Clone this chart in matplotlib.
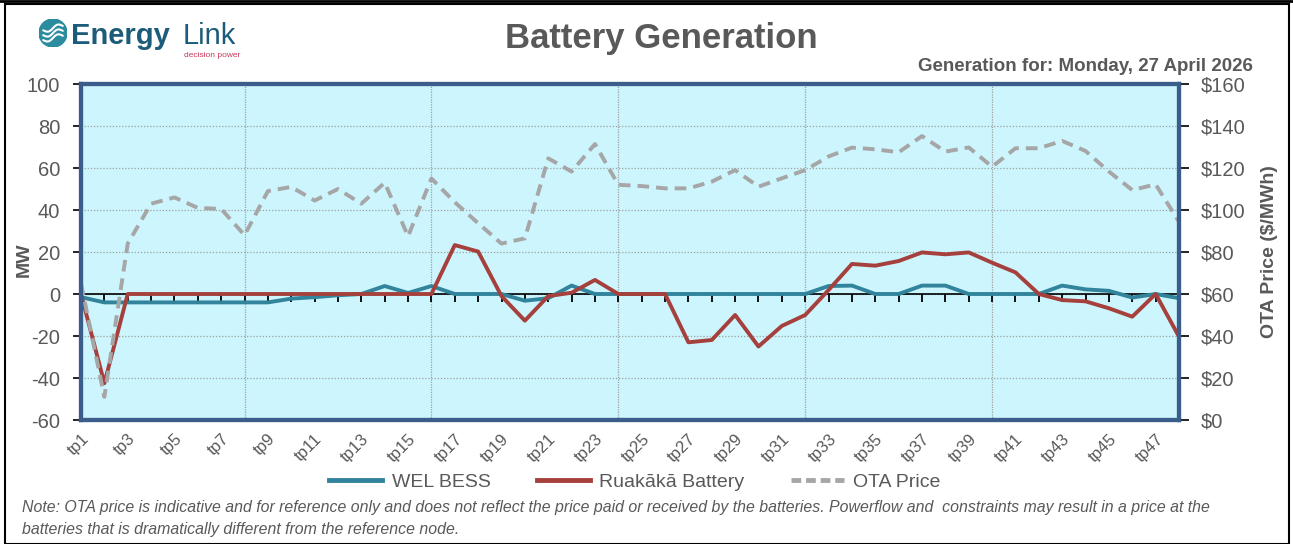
import numpy as np
import matplotlib
matplotlib.use("Agg")
import matplotlib.pyplot as plt
from matplotlib import font_manager
from matplotlib.patches import Rectangle, Circle
from matplotlib.lines import Line2D

# data
periods = ["tp%d" % i for i in range(1, 49)]
wel_bess = [-1.5, -4, -4, -4, -4, -4, -4, -4, -4, -2.2, -1.5, -0.6, 0, 3.8, 0.5, 3.8,
            0, 0, 0, -3.2, -2, 4, 0, 0, 0, 0, 0, 0, 0, 0, 0, 0,
            3.8, 4, 0, 0, 4, 4, 0, 0, 0, 0, 4, 2.2, 1.5, -1.7, 0, -2]
ruakaka = [0, -42.5, 0, 0, 0, 0, 0, 0, 0, 0, 0, 0, 0, 0, 0, 0,
           23.3, 20.2, -1, -12.7, -1, 0.6, 6.7, 0, 0, 0, -23, -21.9, -10, -25, -15.2, -10,
           1.9, 14.3, 13.5, 15.7, 19.8, 18.9, 19.8, 14.9, 10.3, 0, -2.9, -3.5, -6.8, -10.8, 0, -20.3]
ota_price = [65, 11, 84, 103, 106, 101, 100.5, 88, 109, 111, 104.5, 110, 103, 113, 87.5, 115,
             103.7, 93.7, 84, 86.5, 124.6, 118.3, 131.4, 112, 111.4, 110.3, 110.3, 113.5, 119, 111.1, 115.1, 119,
             125.5, 129.7, 128.9, 127.5, 135.2, 127.8, 129.8, 120.6, 129.4, 129.4, 132.9, 128.1, 118.3, 109.5, 112.2, 94.4]
mw_ticks = list(range(-60, 101, 20))
price_ticks = list(range(0, 161, 20))
grid_periods = [7, 15, 23, 31, 39]

installed = {f.name for f in font_manager.fontManager.ttflist}
narrow = "Liberation Sans Narrow" if "Liberation Sans Narrow" in installed else "Liberation Sans"
plt.rcParams["font.family"] = ["Liberation Sans", "DejaVu Sans"]
plt.rcParams["axes.unicode_minus"] = False

grey_txt = "#595959"
teal = "#31849B"
red = "#A5403D"
price_col = "#A6A6A6"
frame_col = "#3A5D8C"

W, H = 1293, 544
fig = plt.figure(figsize=(W / 100, H / 100), dpi=100)

def fx(px):
    return px / W

def fy(py):
    return 1 - py / H

ax = fig.add_axes([fx(81), fy(420), fx(1179) - fx(81), fy(84) - fy(420)])
ax.set_facecolor("#CCF5FD")
x = np.arange(len(periods))

ax.axhline(0, color="black", lw=1.2, zorder=1.5)
ax.plot(x, np.zeros(len(x)), linestyle="none", marker=3, markersize=6, mew=1.3, color="black", zorder=1.5)
ax.plot(x, wel_bess, color=teal, lw=2.8, zorder=3, label="WEL BESS")
ax.plot(x, ruakaka, color=red, lw=2.8, zorder=3, label="Ruakākā Battery")

ax.set_xlim(0, len(x) - 1)
ax.set_ylim(-60, 100)
ax.set_yticks(mw_ticks)
ax.set_xticks(x[::2])
ax.set_xticklabels(periods[::2], rotation=45, ha="right", va="top", rotation_mode="anchor",
                   fontsize=12, color=grey_txt, family=narrow)
ax.set_xticks(grid_periods, minor=True)
ax.tick_params(axis="x", which="both", length=0, pad=8)
ax.tick_params(axis="y", direction="out", length=6, width=1.2, color="black",
               labelsize=14.5, labelcolor=grey_txt, pad=9)
ax.grid(axis="y", color="#A0A0A0", lw=0.9, linestyle=(0, (1, 1.5)))
ax.grid(axis="x", which="minor", color="#A0A0A0", lw=0.9, linestyle=(0, (1, 1)))
ax.set_axisbelow(True)
for s in ax.spines.values():
    s.set_color(frame_col)
    s.set_linewidth(3)
ax.set_ylabel("MW", fontsize=14, fontweight="bold", color=grey_txt)
ax.yaxis.set_label_coords(-0.0437, 0.476)

ax2 = ax.twinx()
ax2.plot(x, ota_price, color=price_col, lw=2.8, dashes=(3, 1.8), label="OTA Price")
ax2.set_ylim(0, 160)
ax2.set_yticks(price_ticks)
ax2.set_yticklabels(["$%d" % p for p in price_ticks])
ax2.tick_params(axis="y", direction="out", length=7, width=1.2, color="black",
                labelsize=14.5, labelcolor=grey_txt, pad=9)
for s in ax2.spines.values():
    s.set_color(frame_col)
    s.set_linewidth(3)
ax2.set_ylabel("OTA Price ($/MWh)", fontsize=14, fontweight="bold", color=grey_txt, labelpad=11)

# titles
fig.text(fx(661), fy(48), "Battery Generation", ha="center", va="baseline",
         fontsize=25, fontweight="bold", color=grey_txt)
fig.text(fx(1253), fy(71), "Generation for: Monday, 27 April 2026", ha="right", va="baseline",
         fontsize=13.5, fontweight="bold", color=grey_txt)

# logo
logo = fig.add_axes([fx(39), fy(47), fx(28), fy(19) - fy(47)])
logo.set_xlim(-1, 1)
logo.set_ylim(-1, 1)
logo.set_aspect("equal")
logo.axis("off")
logo.add_patch(Circle((0, 0), 1, color="#2A8C9E"))
t = np.linspace(-0.7, 0.7, 50)
for off in (-0.3, 0.05, 0.4):
    logo.plot(t, off + 0.15 * np.sin(t * 5) + 0.3 * t - 0.05, color="white", lw=1.5,
              solid_capstyle="round")
fig.text(fx(71), fy(44), "Energy", fontsize=21, fontweight="bold", color="#1C5B79", va="baseline")
fig.text(fx(183), fy(44), "Link", fontsize=21, color="#1C5B79", va="baseline")
fig.text(fx(184), fy(57), "decision power", fontsize=6, color="#C8385A", va="baseline")

# legend
handles = [Line2D([], [], color=teal, lw=3.5),
           Line2D([], [], color=red, lw=3.5),
           Line2D([], [], color=price_col, lw=3.5, dashes=(2, 1))]
fig.legend(handles, ["WEL BESS", "Ruakākā Battery", "OTA Price"], loc="center",
           bbox_to_anchor=(fx(635), fy(482)), ncol=3, frameon=False,
           prop={"family": narrow, "size": 14}, labelcolor=grey_txt,
           handlelength=2.7, handletextpad=0.5, columnspacing=2.4)

note1 = ("Note: OTA price is indicative and for reference only and does not reflect the price paid or "
         "received by the batteries. Powerflow and  constraints may result in a price at the")
note2 = "batteries that is dramatically different from the reference node."
fig.text(fx(22), fy(512), note1, fontsize=11.4, style="italic", color=grey_txt, family=narrow,
         va="baseline")
fig.text(fx(22), fy(534), note2, fontsize=11.4, style="italic", color=grey_txt, family=narrow,
         va="baseline")

# outer frame
fig.add_artist(Rectangle((fx(5), 0), fx(1289) - fx(5), fy(4), fill=False, ec="black", lw=1.5,
                         transform=fig.transFigure))
fig.add_artist(Line2D([0, 1], [fy(1), fy(1)], color="black", lw=2, transform=fig.transFigure))

fig.savefig("out.png", dpi=100)
